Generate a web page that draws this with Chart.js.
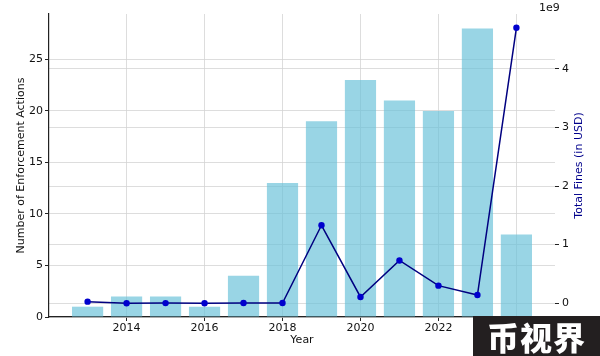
<!DOCTYPE html>
<html>
<head>
<meta charset="utf-8">
<script src="https://cdn.jsdelivr.net/npm/chart.js@4/dist/chart.umd.min.js"></script>
<style>
  html, body { margin: 0; padding: 0; background: #fff; }
  #wrap { position: relative; width: 600px; height: 356px; }
  #wm { position: absolute; left: 473px; top: 316px; width: 127px; height: 40px; background: #231f20;
        color: #fff; font-family: "Noto Sans CJK SC", sans-serif; font-weight: 900; font-size: 32px;
        line-height: 40px; text-align: center; letter-spacing: 1px; }
</style>
</head>
<body>
<div id="wrap">
  <canvas id="c" width="600" height="356"></canvas>
  <div id="wm">币视界</div>
</div>
<script>
const years = [2013, 2014, 2015, 2016, 2017, 2018, 2019, 2020, 2021, 2022, 2023, 2024];
const enforcementActions = [1, 2, 2, 1, 4, 13, 19, 23, 21, 20, 28, 8];
const totalFinesUSD = [0.027e9, 0.0, 0.002e9, 0.0, 0.003e9, 0.003e9, 1.33e9, 0.107e9, 0.73e9, 0.30e9, 0.14e9, 4.70e9];
const xTickValues = [2014, 2016, 2018, 2020, 2022, 2024];
const leftTickValues = [0, 5, 10, 15, 20, 25];
const rightTickValues = [0, 1e9, 2e9, 3e9, 4e9];

const FONT = "'DejaVu Sans', sans-serif";
const gridOpts = { offset: false, color: '#d4d4d4', lineWidth: 0.8, borderDash: [1, 2], tickColor: '#222', tickBorderDash: [], tickLength: 4, tickWidth: 1 };

const extraText = {
  id: 'extraText',
  afterDraw(chart) {
    const ctx = chart.ctx;
    const a = chart.chartArea;
    ctx.save();
    ctx.font = "11px " + FONT;
    ctx.fillStyle = '#00008B';
    ctx.textAlign = 'center';
    ctx.textBaseline = 'middle';
    ctx.translate(579, (a.top + a.bottom) / 2);
    ctx.rotate(-Math.PI / 2);
    ctx.fillText('Total Fines (in USD)', 0, 0);
    ctx.restore();
    ctx.save();
    ctx.font = "11px " + FONT;
    ctx.fillStyle = '#111';
    ctx.textAlign = 'left';
    ctx.textBaseline = 'middle';
    ctx.fillText('1e9', 539, 8);
    ctx.restore();
  }
};

new Chart(document.getElementById('c'), {
  data: {
    datasets: [
      {
        type: 'line',
        label: 'Total Fines',
        data: years.map((y, i) => ({ x: y, y: totalFinesUSD[i] })),
        yAxisID: 'y1',
        borderColor: '#000080',
        borderWidth: 1.5,
        pointBackgroundColor: '#0000CD',
        pointBorderColor: '#0000CD',
        pointRadius: 3.2,
        pointBorderWidth: 0,
        tension: 0,
        order: 0
      },
      {
        type: 'bar',
        label: 'Enforcement Actions',
        data: years.map((y, i) => ({ x: y, y: enforcementActions[i] })),
        yAxisID: 'y',
        backgroundColor: 'rgba(110,195,218,0.7)',
        borderWidth: 0,
        barPercentage: 0.8,
        categoryPercentage: 1.0,
        order: 1
      }
    ]
  },
  options: {
    responsive: false,
    animation: false,
    layout: { padding: { top: 14, left: 15, right: 0, bottom: 9 } },
    plugins: { legend: { display: false }, tooltip: { enabled: false } },
    scales: {
      x: {
        type: 'linear',
        offset: false,
        min: 2012.01,
        max: 2024.99,
        afterBuildTicks: s => { s.ticks = xTickValues.map(v => ({ value: v })); },
        afterFit: s => { s.height = 30; },
        ticks: { font: { family: FONT, size: 11 }, color: '#111', padding: 1, maxRotation: 0, callback: v => String(v) },
        grid: gridOpts,
        border: { display: true, color: '#222', width: 1.2 },
        title: { display: true, text: 'Year', font: { family: FONT, size: 11 }, color: '#111', padding: { top: 1, bottom: 0 } }
      },
      y: {
        type: 'linear',
        position: 'left',
        min: 0,
        max: 29.4,
        afterBuildTicks: s => { s.ticks = leftTickValues.map(v => ({ value: v })); },
        afterFit: s => { s.width = 34; },
        ticks: { font: { family: FONT, size: 11 }, color: '#111', padding: 2 },
        grid: gridOpts,
        border: { display: true, color: '#222', width: 1.2 },
        title: { display: true, text: 'Number of Enforcement Actions', font: { family: FONT, size: 11 }, color: '#111', padding: { top: 0, bottom: 2 } }
      },
      y1: {
        type: 'linear',
        position: 'right',
        min: -0.235e9,
        max: 4.935e9,
        afterBuildTicks: s => { s.ticks = rightTickValues.map(v => ({ value: v })); },
        afterFit: s => { s.width = 45; },
        ticks: { font: { family: FONT, size: 11 }, color: '#111', padding: 3, callback: v => String(v / 1e9) },
        grid: gridOpts,
        border: { display: false }
      }
    }
  },
  plugins: [extraText]
});
</script>
</body>
</html>
